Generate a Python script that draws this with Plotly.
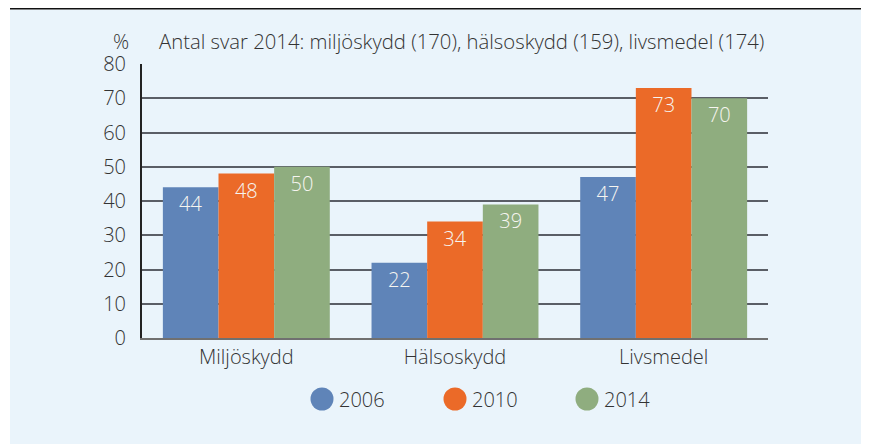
import plotly.graph_objects as go

categories = ["Miljöskydd", "Hälsoskydd", "Livsmedel"]
years = ["2006", "2010", "2014"]
values_2006 = [44, 22, 47]
values_2010 = [48, 34, 73]
values_2014 = [50, 39, 70]
series = [values_2006, values_2010, values_2014]
colors = ["#5F84B8", "#EB6A28", "#8FAD7F"]
yticks = [0, 10, 20, 30, 40, 50, 60, 70, 80]
title_text = "Antal svar 2014: miljöskydd (170), hälsoskydd (159), livsmedel (174)"

FONT = "Open Sans"
TXT = "#333333"
WT = 300
FS = 20

# figure geometry (page has 8px body margin)
W, H = 861, 436
L, R, T, B = 134, 101, 56, 106
PW, PH = W - L - R, H - T - B

fig = go.Figure()
for name, vals, col in zip(years, series, colors):
    fig.add_trace(go.Bar(
        x=categories, y=vals, name=name, marker=dict(color=col, line=dict(width=0)),
        text=[str(v) for v in vals], textposition="inside", insidetextanchor="end",
        textfont=dict(family=FONT, size=FS, color="#F6F5F0", weight=WT),
        showlegend=False, cliponaxis=False,
    ))

shapes = [
    dict(type="rect", xref="paper", yref="paper", layer="below",
         x0=(2 - L) / PW, x1=1 + R / PW, y0=-B / PH, y1=1 + (T - 1.5) / PH,
         fillcolor="#EAF4FB", line=dict(width=0)),
    dict(type="line", xref="paper", yref="paper",
         x0=(2 - L) / PW, x1=1 + R / PW, y0=1 + (T - 0.5) / PH, y1=1 + (T - 0.5) / PH,
         line=dict(color="#111", width=2)),
]
annotations = [
    dict(text="%", xref="paper", yref="paper", x=-21 / PW, y=1 + 23 / PH,
         xanchor="center", yanchor="middle", showarrow=False,
         font=dict(family=FONT, size=FS, color=TXT, weight=WT)),
    dict(text=title_text, xref="paper", yref="paper", x=15 / PW, y=1 + 23 / PH,
         xanchor="left", yanchor="middle", showarrow=False,
         font=dict(family=FONT, size=20.3, color=TXT, weight=WT)),
]

# legend (circles + labels)
leg_x = [180, 313, 445]
leg_y = -61 / PH
for yr, col, lx in zip(years, colors, leg_x):
    px = lx / PW
    shapes.append(dict(type="circle", xref="paper", yref="paper",
                       xsizemode="pixel", ysizemode="pixel", xanchor=px, yanchor=leg_y,
                       x0=-11.5, x1=11.5, y0=-11.5, y1=11.5,
                       fillcolor=col, line=dict(width=0)))
    annotations.append(dict(text=yr, xref="paper", yref="paper", x=px, y=leg_y,
                            xanchor="left", yanchor="middle", xshift=15, showarrow=False,
                            font=dict(family=FONT, size=FS, color=TXT, weight=WT)))

fig.update_layout(
    width=W, height=H,
    margin=dict(l=L, r=R, t=T, b=B, pad=0),
    paper_bgcolor="white", plot_bgcolor="rgba(0,0,0,0)",
    barmode="group", bargap=0.2, bargroupgap=0,
    font=dict(family=FONT, size=FS, color=TXT, weight=WT),
    showlegend=False,
    xaxis=dict(showline=True, linecolor="#707070", linewidth=2, ticks="",
               tickfont=dict(family=FONT, size=FS, color=TXT, weight=WT), showgrid=False),
    yaxis=dict(range=[0, 80], tickvals=yticks, showline=True, linecolor="#222",
               linewidth=2, showgrid=True, gridcolor="#5a5e66", gridwidth=1.5,
               zeroline=False, ticks="", ticklabelstandoff=10,
               tickfont=dict(family=FONT, size=FS, color=TXT, weight=WT)),
    shapes=shapes,
    annotations=annotations,
)

fig.write_html("out.html")
